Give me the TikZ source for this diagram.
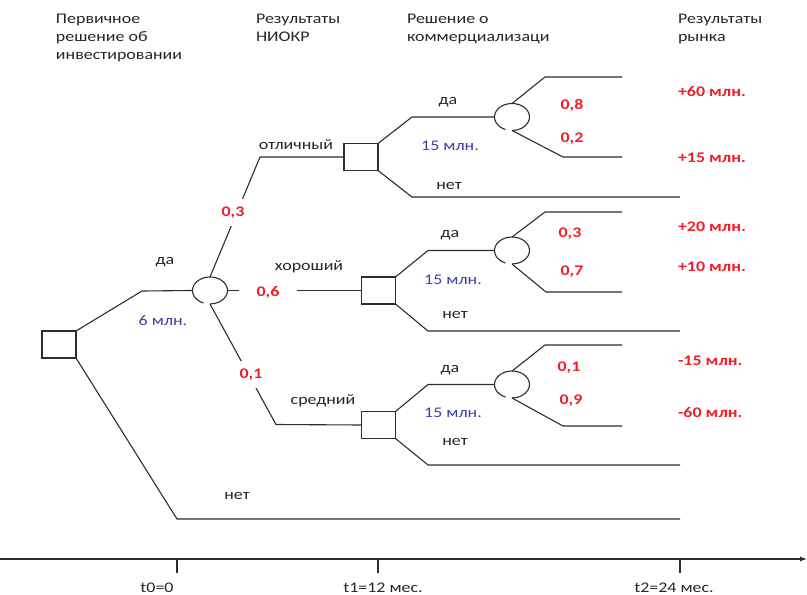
\documentclass[tikz,border=0pt]{standalone}
\usepackage{fontspec}
\setmainfont{Carlito}[FakeStretch=1.22]
\usetikzlibrary{shapes.geometric,arrows.meta}
\definecolor{probred}{RGB}{240,30,40}
\definecolor{costblue}{RGB}{62,62,168}
\definecolor{ink}{RGB}{45,45,45}
% open ring of a chance node: an ellipse with a small gap at the bottom
\newcommand\ringat[1]{\draw[wire] ([shift={(112:17.5 and 13.5)}]#1.center) arc[start angle=112, end angle=450, x radius=17.5, y radius=13.5];}
\begin{document}
\begin{tikzpicture}[x=1pt,y=-1pt,
  every node/.style={font=\fontsize{14.7pt}{18pt}\selectfont, inner sep=0pt, outer sep=0pt},
  wire/.style={draw=ink, line width=1.1pt},
  decision/.style={draw=ink, line width=1.1pt, minimum width=34pt, minimum height=27pt},
  chance/.style={ellipse, minimum width=35pt, minimum height=27pt},
  caption/.style={anchor=base, text=black!85},
  hdr/.style={anchor=north west, align=left, text=black!85},
  prob/.style={anchor=base, text=probred, font=\fontsize{14.7pt}{18pt}\selectfont\bfseries},
  cost/.style={anchor=base, text=costblue},
  payoff/.style={anchor=base west, text=probred, font=\fontsize{14.7pt}{18pt}\selectfont\bfseries},
  onwire/.style={prob, fill=white, inner xsep=4pt, inner ysep=8pt},
]
\useasboundingbox (0,0) rectangle (807,595);

% column headings
\node[hdr] (h0) at (56,14.5) {Первичное\\решение об\\инвестировании};
\node[hdr] (h1) at (256,14.5) {Результаты\\НИОКР};
\node[hdr] (h2) at (407,14.5) {Решение о\\коммерциализаци};
\node[hdr] (h3) at (678,14.5) {Результаты\\рынка};

% decision and chance nodes
\node[decision] (r)  at (59,344.5) {};
\node[chance]   (c0) at (210,290.5) {};
\node[decision] (s1) at (361,157) {};
\node[decision] (s2) at (378.5,290.5) {};
\node[decision] (s3) at (378.5,425) {};
\node[chance]   (c1) at (512,117) {};
\node[chance]   (c2) at (512,250.5) {};
\node[chance]   (c3) at (512,384.5) {};
\ringat{c0}
\ringat{c1}
\ringat{c2}
\ringat{c3}

% bend points and free ends
\coordinate (r-up)   at (142,291);
\coordinate (r-dn)   at (177,519);
\coordinate (r-end)  at (680,519);
\coordinate (c0-up)  at (260,157);
\coordinate (c0-dn)  at (276,424.5);
\coordinate (s1-up)  at (412,117);
\coordinate (s1-dn)  at (412,197);
\coordinate (s1-end) at (680,197);
\coordinate (c1-a)   at (545,77);
\coordinate (c1-ae)  at (622,77);
\coordinate (c1-b)   at (563,157);
\coordinate (c1-be)  at (622,157);
\coordinate (s2-up)  at (428,250.5);
\coordinate (s2-dn)  at (428,331);
\coordinate (s2-end) at (680,331);
\coordinate (c2-a)   at (545,212);
\coordinate (c2-ae)  at (622,212);
\coordinate (c2-b)   at (546,292);
\coordinate (c2-be)  at (622,292);
\coordinate (s3-up)  at (428,384.5);
\coordinate (s3-dn)  at (428,465);
\coordinate (s3-end) at (680,465);
\coordinate (c3-a)   at (545,345);
\coordinate (c3-ae)  at (622,345);
\coordinate (c3-b)   at (563,426);
\coordinate (c3-be)  at (622,426);

% branches
\draw[wire] (r.north east) -- (r-up) -- (c0.west);
\draw[wire] (r.south east) -- (r-dn) -- (r-end);
\draw[wire] (c0.north) -- (c0-up) -- (s1.west);
\draw[wire] (c0.east) -- (s2.west);
\draw[wire] (c0.south) -- (c0-dn) -- (s3.west);
\draw[wire] (s1.north east) -- (s1-up) -- (c1.west);
\draw[wire] (s1.south east) -- (s1-dn) -- (s1-end);
\draw[wire] (c1.north) -- (c1-a) -- (c1-ae);
\draw[wire] (c1.south) -- (c1-b) -- (c1-be);
\draw[wire] (s2.north east) -- (s2-up) -- (c2.west);
\draw[wire] (s2.south east) -- (s2-dn) -- (s2-end);
\draw[wire] (c2.north) -- (c2-a) -- (c2-ae);
\draw[wire] (c2.south) -- (c2-b) -- (c2-be);
\draw[wire] (s3.north east) -- (s3-up) -- (c3.west);
\draw[wire] (s3.south east) -- (s3-dn) -- (s3-end);
\draw[wire] (c3.north) -- (c3-a) -- (c3-ae);
\draw[wire] (c3.south) -- (c3-b) -- (c3-be);

% first stage labels
\node[caption] (l-yes0) at (165,264) {да};
\node[cost]    (l-cost0) at (163,325) {6 млн.};
\node[caption] (l-no0)  at (237,499) {нет};
\node[caption] (l-exc)  at (296,149) {отличный};
\node[caption] (l-good) at (309,270) {хороший};
\node[caption] (l-mid)  at (323,404) {средний};
\node[onwire]  (p-exc)  at (233,216.5) {0,3};
\node[onwire, inner xsep=18pt, inner ysep=3pt] (p-good) at (268,296.5) {0,6};
\node[onwire]  (p-mid)  at (251,378.5) {0,1};

% upper commercialisation branch
\node[caption] (u-yes) at (448,104) {да};
\node[cost]    (u-cost) at (450,150) {15 млн.};
\node[caption] (u-no)  at (449,189) {нет};
\node[prob]    (u-pa)  at (572,109) {0,8};
\node[prob]    (u-pb)  at (572,142) {0,2};
\node[payoff]  (u-ra)  at (678,96) {+60 млн.};
\node[payoff]  (u-rb)  at (678,162) {+15 млн.};

% middle commercialisation branch
\node[caption] (m-yes) at (450,237) {да};
\node[cost]    (m-cost) at (453,284) {15 млн.};
\node[caption] (m-no)  at (455,318) {нет};
\node[prob]    (m-pa)  at (570,237) {0,3};
\node[prob]    (m-pb)  at (572,275) {0,7};
\node[payoff]  (m-ra)  at (678,231) {+20 млн.};
\node[payoff]  (m-rb)  at (678,271) {+10 млн.};

% lower commercialisation branch
\node[caption] (d-yes) at (450,372) {да};
\node[cost]    (d-cost) at (453,417) {15 млн.};
\node[caption] (d-no)  at (455,445) {нет};
\node[prob]    (d-pa)  at (569,371) {0,1};
\node[prob]    (d-pb)  at (571,404) {0,9};
\node[payoff]  (d-ra)  at (678,365) {-15 млн.};
\node[payoff]  (d-rb)  at (678,417) {-60 млн.};

% time axis
\coordinate (ax-start) at (0,559);
\coordinate (ax-end)   at (807,559);
\draw[wire, -{Latex[length=7pt,width=5pt]}] (ax-start) -- (ax-end);
\foreach \tx in {177,378,680} \draw[wire] (\tx,559) -- (\tx,573);
\node[caption] (t0) at (157,592) {t0=0};
\node[caption] (t1) at (383,592) {t1=12 мес.};
\node[caption] (t2) at (674,592) {t2=24 мес.};
\end{tikzpicture}
\end{document}
